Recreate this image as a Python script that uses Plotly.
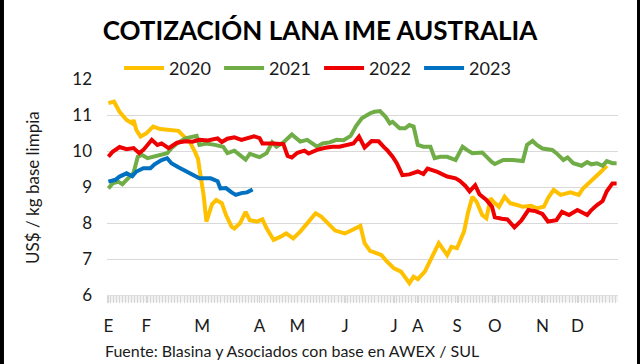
import plotly.graph_objects as go

# ---- data (day of year, US$/kg clean) ----
days_2020 = [1, 5, 9, 14, 18, 19, 21, 24, 28, 33, 38, 45, 51, 54, 59, 63, 65, 66, 69, 71,
             75, 78, 82, 85, 89, 91, 95, 99, 102, 107, 111, 114, 119, 124, 128, 133, 138, 143, 149, 153,
             158, 163, 170, 176, 181, 184, 188, 190, 196, 200, 205, 210, 214, 216, 219, 222, 227, 232, 237, 243,
             246, 250, 255, 258, 261, 264, 268, 271, 274, 276, 280, 284, 288, 293, 297, 303, 307, 312, 315, 319,
             324, 331, 337, 340, 344, 350, 353, 357]
vals_2020 = [11.33, 11.37, 11.09, 10.86, 10.77, 10.86, 10.58, 10.40, 10.49, 10.68, 10.61, 10.58, 10.56, 10.44, 10.26, 9.96, 9.78, 9.52, 8.78, 8.04,
             8.52, 8.64, 8.55, 8.22, 7.90, 7.85, 7.99, 8.31, 8.08, 8.04, 8.10, 7.85, 7.53, 7.62, 7.71, 7.57, 7.76, 7.99, 8.27, 8.18,
             7.99, 7.79, 7.71, 7.81, 7.92, 7.44, 7.22, 7.20, 7.11, 6.93, 6.74, 6.65, 6.46, 6.33, 6.51, 6.44, 6.65, 7.02, 7.44, 7.11,
             7.34, 7.30, 7.76, 8.31, 8.73, 8.59, 8.22, 8.13, 8.69, 8.59, 8.45, 8.73, 8.55, 8.50, 8.45, 8.48, 8.41, 8.45, 8.69, 8.92,
             8.78, 8.85, 8.78, 8.96, 9.10, 9.29, 9.43, 9.59]

days_2021 = [1, 4, 8, 11, 15, 19, 22, 25, 29, 34, 39, 43, 46, 50, 56, 64, 66, 71, 77, 83,
             86, 91, 99, 102, 109, 114, 118, 121, 126, 132, 138, 143, 150, 154, 159, 164, 169, 174, 178, 182,
             188, 191, 195, 199, 202, 204, 209, 213, 216, 219, 222, 226, 231, 234, 238, 243, 249, 254, 257, 261,
             268, 271, 275, 277, 283, 290, 297, 300, 304, 307, 311, 318, 321, 326, 329, 333, 339, 343, 346, 350,
             354, 357, 361, 364]
vals_2021 = [8.96, 9.10, 9.15, 9.08, 9.24, 9.40, 9.84, 9.89, 9.80, 9.84, 9.89, 9.94, 10.08, 10.21, 10.35, 10.42, 10.17, 10.21, 10.17, 10.12,
             9.94, 10.01, 9.76, 9.92, 9.83, 9.94, 10.24, 10.12, 10.24, 10.46, 10.26, 10.31, 10.12, 10.21, 10.24, 10.31, 10.30, 10.42, 10.70, 10.91,
             11.05, 11.09, 11.11, 10.95, 10.77, 10.81, 10.63, 10.63, 10.72, 10.68, 10.17, 10.12, 10.12, 9.80, 9.84, 9.84, 9.75, 10.12, 10.03, 9.94,
             9.96, 9.84, 9.69, 9.64, 9.75, 9.75, 9.72, 10.17, 10.28, 10.17, 10.07, 10.03, 9.94, 9.75, 9.82, 9.66, 9.59, 9.69, 9.63, 9.66,
             9.59, 9.72, 9.66, 9.66]

days_2022 = [1, 4, 9, 14, 19, 23, 26, 32, 36, 39, 44, 50, 56, 61, 66, 72, 79, 82, 86, 91,
             96, 99, 105, 109, 111, 119, 126, 129, 132, 136, 141, 144, 150, 156, 161, 166, 171, 176, 180, 184,
             189, 194, 198, 200, 204, 207, 211, 216, 222, 226, 229, 236, 243, 249, 252, 256, 259, 263, 266, 271,
             275, 277, 282, 286, 291, 296, 301, 306, 311, 315, 321, 325, 330, 336, 343, 346, 350, 354, 357, 361,
             364]
vals_2022 = [9.84, 9.98, 10.11, 10.05, 10.08, 9.94, 10.03, 10.31, 10.17, 10.21, 10.08, 10.23, 10.27, 10.26, 10.31, 10.29, 10.35, 10.25, 10.34, 10.38,
             10.31, 10.35, 10.41, 10.36, 10.21, 10.21, 10.19, 9.86, 9.82, 9.95, 10.01, 9.93, 10.03, 10.09, 10.12, 10.12, 10.17, 10.21, 10.40, 10.10,
             10.28, 10.27, 10.10, 10.03, 9.84, 9.66, 9.33, 9.35, 9.43, 9.36, 9.51, 9.42, 9.29, 9.24, 9.17, 9.03, 8.88, 9.05, 8.80, 8.64,
             8.45, 8.16, 8.12, 8.10, 7.88, 8.07, 8.36, 8.33, 8.25, 8.04, 8.08, 8.31, 8.22, 8.36, 8.22, 8.36, 8.50, 8.61, 8.88, 9.10,
             9.10]

days_2023 = [1, 6, 9, 14, 18, 21, 26, 31, 34, 39, 43, 46, 51, 56, 61, 66, 74, 79, 81, 85,
             89, 92, 96, 100, 104]
vals_2023 = [9.15, 9.20, 9.29, 9.38, 9.30, 9.43, 9.52, 9.52, 9.63, 9.75, 9.80, 9.66, 9.55, 9.45, 9.34, 9.24, 9.24, 9.16, 8.96, 8.97,
             8.85, 8.78, 8.83, 8.85, 8.93]

series_names = ["2020", "2021", "2022", "2023"]
series_colors = ["#FFC000", "#70AD47", "#EE0000", "#0070C0"]

month_days = [1, 28, 68, 109, 136, 170, 205, 222, 250, 277, 311, 336]
month_labels = ["E", "F", "M", "A", "M", "J", "J", "A", "S", "O", "N", "D"]

y_ticks = [6, 7, 8, 9, 10, 11, 12]

FONT = "Lato, 'Open Sans', sans-serif"

fig = go.Figure()
for name, color, xs, ys in zip(series_names, series_colors,
                               [days_2020, days_2021, days_2022, days_2023],
                               [vals_2020, vals_2021, vals_2022, vals_2023]):
    fig.add_trace(go.Scatter(x=xs, y=ys, mode="lines", name=name,
                             line=dict(color=color, width=4)))

fig.update_layout(
    width=640, height=364,
    margin=dict(l=107, r=22, t=79, b=69),
    paper_bgcolor="white", plot_bgcolor="white",
    font=dict(family=FONT, color="#1a1a1a", size=17),
    title=dict(text="COTIZACIÓN LANA IME AUSTRALIA", x=0.5, xanchor="center",
               y=1 - 31 / 364, yref="container", yanchor="middle",
               font=dict(family=FONT, size=26, color="#000000", weight=700)),
    legend=dict(orientation="h", x=0.415, xanchor="center", y=1.05, yanchor="middle",
                font=dict(size=18), entrywidth=45, entrywidthmode="pixels",
                bgcolor="rgba(0,0,0,0)", itemwidth=40, traceorder="normal"),
    showlegend=True,
)

fig.update_xaxes(range=[0, 365], tickmode="array", tickvals=month_days, ticktext=month_labels,
                 showgrid=False, zeroline=False, showline=True, linecolor="#dedede",
                 linewidth=1, ticks="outside", ticklen=7, tickcolor="#d6d6d6", tickwidth=1,
                 tickfont=dict(size=17, color="#1a1a1a"), ticklabelstandoff=9,
                 minor=dict(tickmode="linear", tick0=0, dtick=2.2, ticks="outside",
                            ticklen=7, tickcolor="#d6d6d6", tickwidth=1, showgrid=False))
fig.update_yaxes(range=[6, 12], tickvals=y_ticks, showgrid=True, gridcolor="#d9d9d9",
                 gridwidth=1, zeroline=False, showline=False, ticks="",
                 tickfont=dict(size=17, color="#1a1a1a"), ticklabelstandoff=14)

# light hatched band under the baseline (Excel-style date axis)
fig.add_shape(type="rect", xref="paper", yref="paper", x0=0, x1=1, y0=-0.0324, y1=0,
              fillcolor="#f2f2f2", line=dict(width=0), layer="below")

# y-axis title
fig.add_annotation(text="US$ / kg base limpia", textangle=-90, xref="paper", yref="paper",
                   x=-0.147, y=0.5, xanchor="center", yanchor="middle", showarrow=False,
                   font=dict(size=17, color="#1a1a1a"))
# source note
fig.add_annotation(text="Fuente: Blasina y Asociados con base en AWEX / SUL", xref="paper", yref="paper",
                   x=-0.008, y=-0.255, xanchor="left", yanchor="middle", showarrow=False,
                   font=dict(size=16, color="#1a1a1a"))

# black border strips at left and right edges of the image
for x0, x1 in [(-0.2094, -0.2016), (1.0372, 1.0431)]:
    fig.add_shape(type="rect", xref="paper", yref="paper", x0=x0, x1=x1, y0=-0.32, y1=1.37,
                  fillcolor="black", line=dict(width=0), layer="above")

fig.write_html("out.html", config={"displayModeBar": False},
               post_script="document.body.style.margin='0px';")
